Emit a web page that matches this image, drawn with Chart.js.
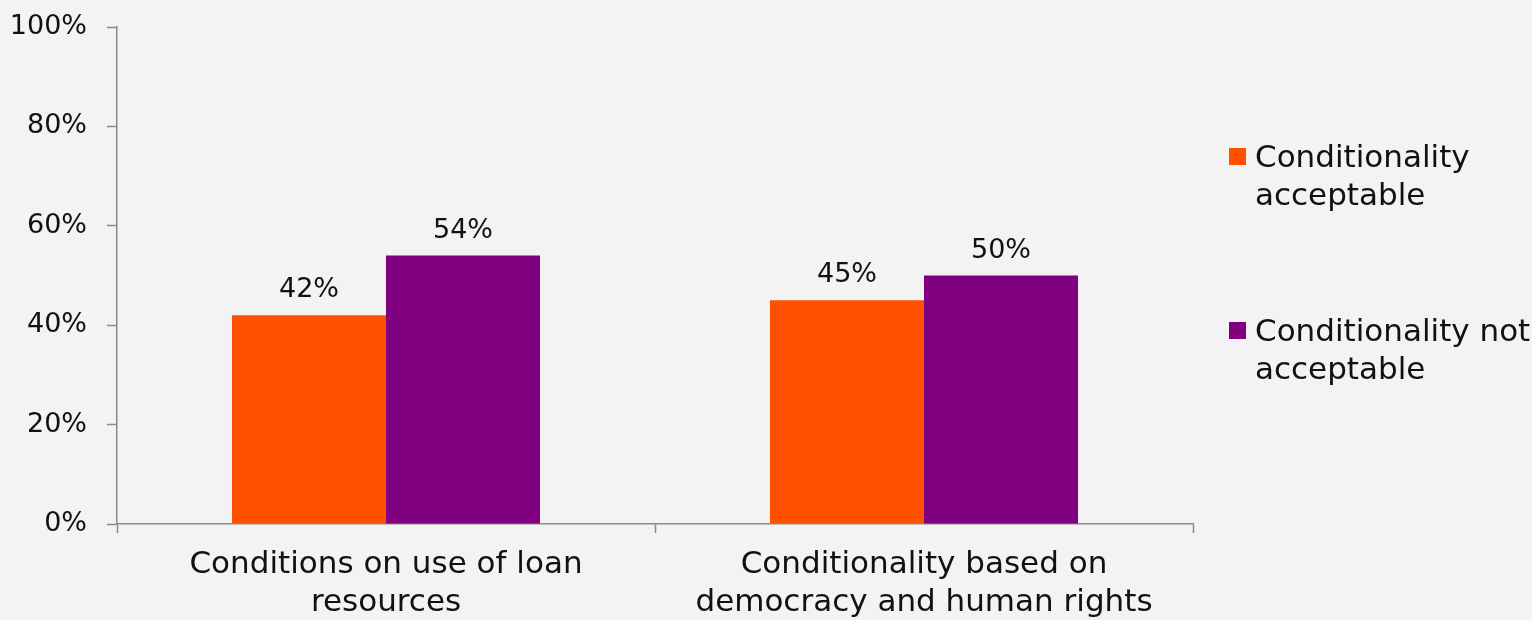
<!DOCTYPE html>
<html>
<head>
<meta charset="utf-8">
<script src="https://cdn.jsdelivr.net/npm/chart.js@4.4.0/dist/chart.umd.min.js"></script>
<style>
  html, body { margin: 0; padding: 0; background: #f3f3f3; }
  #wrap { width: 1532px; height: 620px; position: relative; }
</style>
</head>
<body>
<div id="wrap"><canvas id="grafico"></canvas></div>
<script>
// dados do grafico
var categorias = [
  ["Conditions on use of loan", "resources"],
  ["Conditionality based on", "democracy and human rights"]
]
var series = ["Conditionality acceptable", "Conditionality not acceptable"]
var legendaLinhas = [["Conditionality", "acceptable"], ["Conditionality not", "acceptable"]]
var aceitavel = [42, 45]
var naoAceitavel = [54, 50]
var yTicks = [0, 20, 40, 60, 80, 100]
var cores = ["#ff5000", "#800080"]

var fonte = "'DejaVu Sans', sans-serif"
var corEixo = "#8a8a8a"

// rotulos de valor em cima das barras
var rotulos = {
  id: "rotulos",
  afterDatasetsDraw: function(chart){
    var ctx = chart.ctx
    ctx.save()
    ctx.font = "27px " + fonte
    ctx.fillStyle = "#111"
    ctx.textAlign = "center"
    ctx.textBaseline = "alphabetic"
    chart.data.datasets.forEach(function(ds, i){
      chart.getDatasetMeta(i).data.forEach(function(bar, j){
        ctx.fillText(ds.data[j] + "%", bar.x, bar.y - 18)
      })
    })
    ctx.restore()
  }
}

// legenda desenhada a mao (texto em duas linhas)
var legenda = {
  id: "legenda",
  afterDraw: function(chart){
    var ctx = chart.ctx
    var x0 = chart.chartArea.right + 36
    var tops = [148, 322]
    ctx.save()
    ctx.font = "31px " + fonte
    ctx.fillStyle = "#111"
    ctx.textBaseline = "alphabetic"
    legendaLinhas.forEach(function(linhas, i){
      ctx.fillStyle = cores[i]
      ctx.fillRect(x0, tops[i], 17, 17)
      ctx.fillStyle = "#111"
      linhas.forEach(function(l, k){
        ctx.fillText(l, x0 + 26, tops[i] + 19 + k * 38)
      })
    })
    ctx.restore()
  }
}

new Chart(document.getElementById("grafico"), {
  type: "bar",
  data: {
    labels: categorias,
    datasets: [
      { label: series[0], data: aceitavel, backgroundColor: cores[0] },
      { label: series[1], data: naoAceitavel, backgroundColor: cores[1] }
    ]
  },
  options: {
    responsive: true,
    maintainAspectRatio: false,
    animation: false,
    layout: { padding: { top: 27, right: 339, left: 0, bottom: 0 } },
    datasets: { bar: { categoryPercentage: 0.5725, barPercentage: 1 } },
    plugins: {
      legend: { display: false },
      tooltip: { enabled: false }
    },
    scales: {
      x: {
        grid: { drawOnChartArea: false, color: corEixo, tickLength: 9, tickWidth: 1.5, offset: true },
        border: { color: corEixo, width: 1.5 },
        ticks: { color: "#111", font: { family: fonte, size: 31, lineHeight: 1.226 }, padding: 13, maxRotation: 0, autoSkip: false },
        afterFit: function(s){ s.height = 96; s.paddingLeft = 0; s.paddingRight = 0 }
      },
      y: {
        min: 0,
        max: 100,
        afterBuildTicks: function(s){ s.ticks = yTicks.map(function(v){ return { value: v } }) },
        grid: { drawOnChartArea: false, color: corEixo, tickLength: 10, tickWidth: 1.5 },
        border: { color: corEixo, width: 1.5 },
        ticks: { color: "#111", font: { family: fonte, size: 27 }, padding: 20, callback: function(v){ return v + "%" } },
        afterFit: function(s){ s.width = 117; s.paddingTop = 0; s.paddingBottom = 0 }
      }
    }
  },
  plugins: [rotulos, legenda]
})
</script>
</body>
</html>
